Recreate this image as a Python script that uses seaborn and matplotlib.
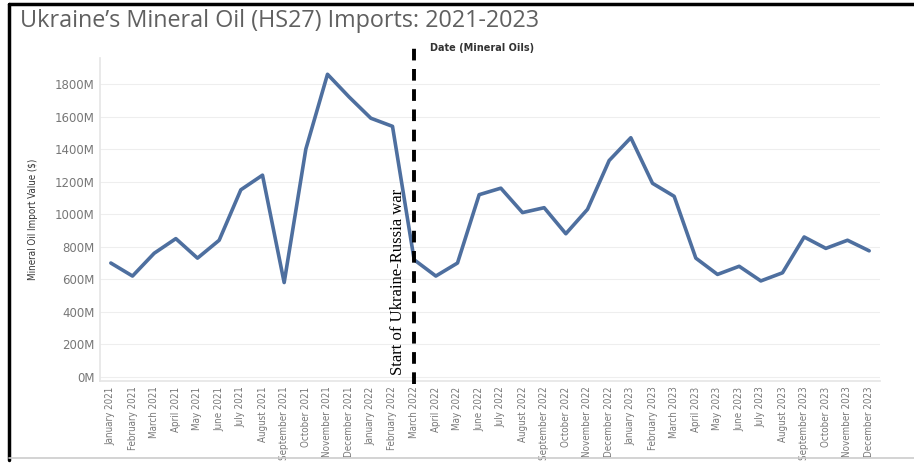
import matplotlib
matplotlib.use("Agg")
import matplotlib.pyplot as plt
import seaborn as sns
import pandas as pd
from matplotlib.lines import Line2D

months = ["January 2021", "February 2021", "March 2021", "April 2021", "May 2021", "June 2021",
          "July 2021", "August 2021", "September 2021", "October 2021", "November 2021", "December 2021",
          "January 2022", "February 2022", "March 2022", "April 2022", "May 2022", "June 2022",
          "July 2022", "August 2022", "September 2022", "October 2022", "November 2022", "December 2022",
          "January 2023", "February 2023", "March 2023", "April 2023", "May 2023", "June 2023",
          "July 2023", "August 2023", "September 2023", "October 2023", "November 2023", "December 2023"]
values_m = [700, 620, 760, 850, 730, 840,
            1150, 1240, 580, 1400, 1860, 1720,
            1590, 1540, 720, 620, 700, 1120,
            1160, 1010, 1040, 880, 1030, 1330,
            1470, 1190, 1110, 730, 630, 680,
            590, 640, 860, 790, 840, 775]
y_ticks = [0, 200, 400, 600, 800, 1000, 1200, 1400, 1600, 1800]
war_month = "March 2022"

df = pd.DataFrame({"idx": range(len(months)), "month": months, "value": values_m})

sns.set_theme(style="white")
fig = plt.figure(figsize=(9.14, 4.63), dpi=100)
ax = fig.add_axes([100/914, 1-381/463, 780/914, (381-58)/463])

sns.lineplot(data=df, x="idx", y="value", ax=ax, color="#4e6f9f", linewidth=2.6)

ax.set_xlim(-0.5, len(months) - 0.5)
ax.set_ylim(-25, 1960)
ax.set_xticks(df["idx"])
ax.set_xticklabels(months, rotation=90, fontsize=7, color="#777777",
                   family="DejaVu Sans", fontstretch="condensed")
ax.set_yticks(y_ticks)
ax.set_yticklabels([f"{v}M" for v in y_ticks], fontsize=8.5, color="#777777")
ax.tick_params(axis="both", length=0, pad=4)
ax.set_xlabel("")
ax.set_ylabel("Mineral Oil Import Value ($)", fontsize=7, color="#333333", labelpad=12,
              family="DejaVu Sans", fontstretch="condensed")
ax.yaxis.grid(True, color="#eeeeee", linewidth=0.8)
ax.xaxis.grid(False)
for s in ["top", "right"]:
    ax.spines[s].set_visible(False)
ax.spines["left"].set_color("#e6e6e6")
ax.spines["bottom"].set_color("#e6e6e6")

wx = months.index(war_month)
ax.axvline(wx, ymin=-0.01, ymax=1.05, color="black", linewidth=2.8,
           linestyle=(0, (3, 2.2)), clip_on=False, zorder=5)
ax.text(wx - 0.75, 12, "Start of Ukraine-Russia war", rotation=90, ha="center", va="bottom",
        fontsize=12, family=["Liberation Serif", "DejaVu Serif"], color="black")
ax.text((430-100)/780, (381-48)/323, "Date (Mineral Oils)", transform=ax.transAxes,
        fontsize=7, fontweight="bold", color="#333333", ha="left", va="center")

fig.text(20/914, 1-21/463, "Ukraine\u2019s Mineral Oil (HS27) Imports: 2021-2023", fontsize=16.8,
         color="#606060", ha="left", va="center", family=["Open Sans", "DejaVu Sans"])

# frame
fig.add_artist(Line2D([9/914, 1], [1-4/463, 1-4/463], color="black", linewidth=2.5, transform=fig.transFigure))
fig.add_artist(Line2D([9/914, 9/914], [1-4/463, 1-460/463], color="black", linewidth=2.5, transform=fig.transFigure))
fig.add_artist(Line2D([9/914, 1], [1-458/463, 1-458/463], color="#cccccc", linewidth=1.2, transform=fig.transFigure))

fig.savefig("out.png", dpi=100)
